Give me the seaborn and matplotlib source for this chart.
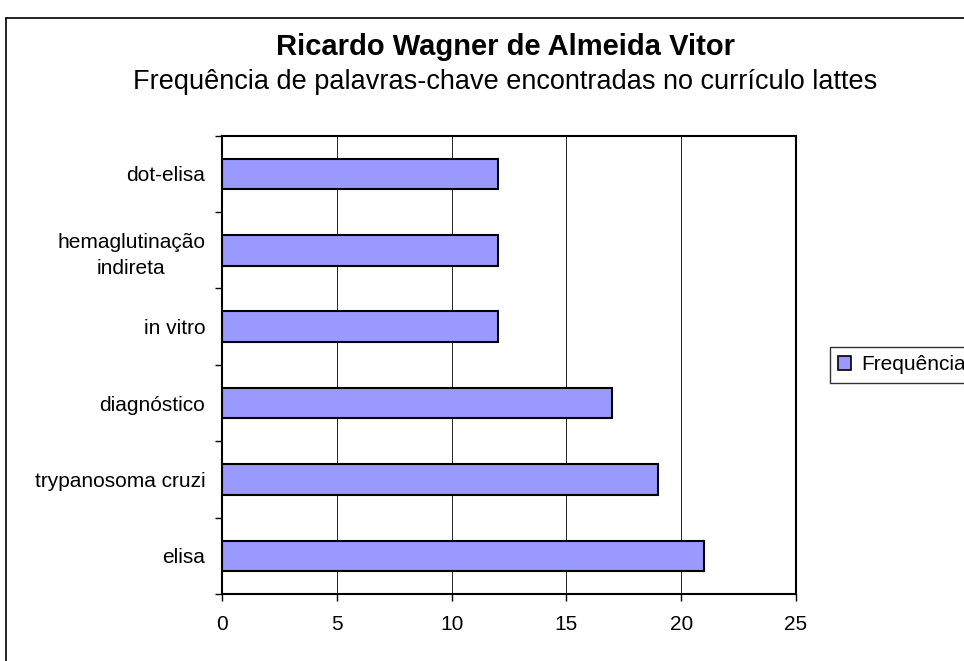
import matplotlib
matplotlib.use("Agg")
import matplotlib.pyplot as plt
import seaborn as sns
import pandas as pd
from matplotlib.patches import Patch
from matplotlib.lines import Line2D
from matplotlib.ticker import MultipleLocator, FixedLocator

# dados
palavras = ["dot-elisa", "hemaglutinação\nindireta", "in vitro",
            "diagnóstico", "trypanosoma cruzi", "elisa"]
frequencia = [12, 12, 12, 17, 19, 21]

df = pd.DataFrame({"Palavra": palavras, "Frequência": frequencia})

sns.set_style("white")
plt.rcParams["font.family"] = ["Liberation Sans", "DejaVu Sans"]
plt.rcParams["text.color"] = "black"
plt.rcParams["xtick.color"] = "black"
plt.rcParams["ytick.color"] = "black"

fig = plt.figure(figsize=(9.64, 6.61), dpi=100)
ax = fig.add_axes([0.2303, 0.1014, 0.5954, 0.6933])

sns.barplot(data=df, x="Frequência", y="Palavra", orient="h",
            color="#9999FF", edgecolor="black", linewidth=1.5,
            width=0.4, saturation=1, ax=ax)

ax.set_xlim(0, 25)
ax.xaxis.set_major_locator(MultipleLocator(5))
ax.grid(axis="x", color="black", linewidth=0.6)
ax.set_axisbelow(True)
ax.set_xlabel("")
ax.set_ylabel("")

# ticks no eixo y entre categorias
ax.yaxis.set_minor_locator(FixedLocator([i + 0.5 for i in range(-1, len(palavras))]))
ax.tick_params(axis="y", which="major", length=0, labelsize=15, pad=12)
ax.tick_params(axis="y", which="minor", length=5, width=1, color="black", left=True)
ax.tick_params(axis="x", length=5, width=1, color="black", bottom=True,
               labelsize=15, pad=10)
for lab in ax.get_yticklabels():
    lab.set_horizontalalignment("right")
    lab.set_multialignment("center")
    lab.set_linespacing(1.45)
for sp in ax.spines.values():
    sp.set_visible(True)
    sp.set_color("black")
    sp.set_linewidth(1.5)

fig.text(0.524, 0.929, "Ricardo Wagner de Almeida Vitor", ha="center", va="center",
         fontsize=21, fontweight="bold")
fig.text(0.524, 0.876, "Frequência de palavras-chave encontradas no currículo lattes",
         ha="center", va="center", fontsize=19.5)

fig.legend(handles=[Patch(facecolor="#9999FF", edgecolor="black", linewidth=1.2)],
           labels=["Frequência"], loc="center left", bbox_to_anchor=(0.861, 0.448),
           frameon=True, fancybox=False, edgecolor="black", fontsize=15,
           handlelength=0.6, handleheight=0.6, handletextpad=0.5, borderpad=0.4,
           borderaxespad=0)

# moldura do gráfico
fig.add_artist(Line2D([6 / 964, 6 / 964], [0, 1 - 18 / 661], color="black", linewidth=1.2))
fig.add_artist(Line2D([6 / 964, 1], [1 - 18 / 661, 1 - 18 / 661], color="black", linewidth=1.2))

fig.savefig("out.png", dpi=100)
